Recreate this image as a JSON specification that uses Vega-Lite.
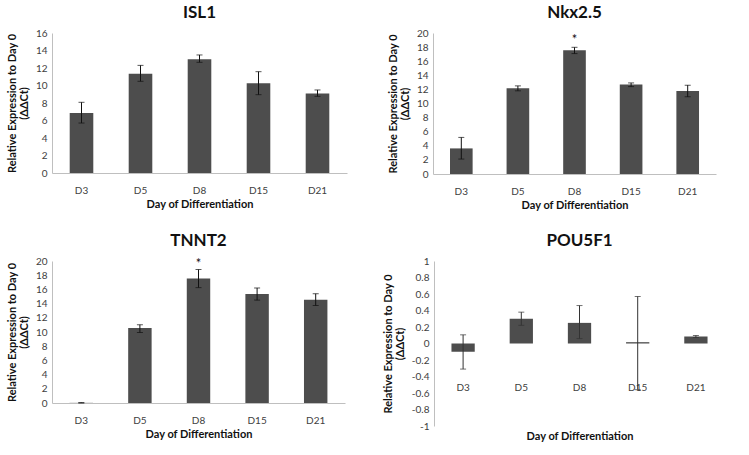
{
  "$schema": "https://vega.github.io/schema/vega-lite/v6.json",
  "padding": {"left": 6, "top": 4, "right": 5, "bottom": 5},
  "spacing": 22,
  "datasets": {
    "d": [
      {"gene": "ISL1", "day": "D3", "value": 6.86, "lo": 5.71, "hi": 8.08, "sig": ""},
      {"gene": "ISL1", "day": "D5", "value": 11.35, "lo": 10.48, "hi": 12.3, "sig": ""},
      {"gene": "ISL1", "day": "D8", "value": 13.0, "lo": 12.65, "hi": 13.49, "sig": ""},
      {"gene": "ISL1", "day": "D15", "value": 10.25, "lo": 8.95, "hi": 11.58, "sig": ""},
      {"gene": "ISL1", "day": "D21", "value": 9.1, "lo": 8.76, "hi": 9.49, "sig": ""},
      {"gene": "Nkx2.5", "day": "D3", "value": 3.63, "lo": 2.12, "hi": 5.19, "sig": ""},
      {"gene": "Nkx2.5", "day": "D5", "value": 12.17, "lo": 11.8, "hi": 12.5, "sig": ""},
      {"gene": "Nkx2.5", "day": "D8", "value": 17.55, "lo": 17.08, "hi": 17.97, "sig": "*"},
      {"gene": "Nkx2.5", "day": "D15", "value": 12.69, "lo": 12.4, "hi": 12.92, "sig": ""},
      {"gene": "Nkx2.5", "day": "D21", "value": 11.79, "lo": 10.94, "hi": 12.6, "sig": ""},
      {"gene": "TNNT2", "day": "D3", "value": 0.02, "lo": 0.0, "hi": 0.05, "sig": ""},
      {"gene": "TNNT2", "day": "D5", "value": 10.55, "lo": 9.93, "hi": 11.02, "sig": ""},
      {"gene": "TNNT2", "day": "D8", "value": 17.53, "lo": 16.25, "hi": 18.8, "sig": "*"},
      {"gene": "TNNT2", "day": "D15", "value": 15.34, "lo": 14.49, "hi": 16.2, "sig": ""},
      {"gene": "TNNT2", "day": "D21", "value": 14.54, "lo": 13.73, "hi": 15.39, "sig": ""},
      {"gene": "POU5F1", "day": "D3", "value": -0.1, "lo": -0.31, "hi": 0.105, "sig": ""},
      {"gene": "POU5F1", "day": "D5", "value": 0.3, "lo": 0.22, "hi": 0.38, "sig": ""},
      {"gene": "POU5F1", "day": "D8", "value": 0.25, "lo": 0.06, "hi": 0.46, "sig": ""},
      {"gene": "POU5F1", "day": "D15", "value": 0.016, "lo": -0.56, "hi": 0.57, "sig": ""},
      {"gene": "POU5F1", "day": "D21", "value": 0.085, "lo": 0.073, "hi": 0.097, "sig": ""}
    ]
  },
  "vconcat": [
    {
      "spacing": 40,
      "hconcat": [
        {
          "title": "ISL1",
          "width": 295, "height": 140,
          "data": {"name": "d"},
          "transform": [{"filter": "datum.gene === 'ISL1'"}],
          "encoding": {
            "x": {"field": "day", "type": "nominal", "sort": ["D3", "D5", "D8", "D15", "D21"],
              "scale": {"paddingInner": 0.6, "paddingOuter": 0.3},
              "axis": {"title": "Day of Differentiation", "labelAngle": 0, "labelPadding": 12, "titlePadding": 3}},
            "y": {"field": "value", "type": "quantitative", "scale": {"domain": [0, 16]},
              "axis": {"values": [0, 2, 4, 6, 8, 10, 12, 14, 16], "title": ["Relative Expression to Day 0", "(ΔΔCt)"]}}
          },
          "layer": [
            {"mark": {"type": "bar", "color": "#4d4d4d"}},
            {"mark": {"type": "errorbar", "ticks": {"size": 6, "color": "#111111"}, "rule": {"color": "#111111"}},
             "encoding": {"y": {"field": "lo", "type": "quantitative", "scale": {"domain": [0, 16]},
               "axis": {"values": [0, 2, 4, 6, 8, 10, 12, 14, 16], "title": ["Relative Expression to Day 0", "(ΔΔCt)"]}}, "y2": {"field": "hi"}}}
          ]
        },
        {
          "title": "Nkx2.5",
          "width": 283, "height": 141,
          "data": {"name": "d"},
          "transform": [{"filter": "datum.gene === 'Nkx2.5'"}],
          "encoding": {
            "x": {"field": "day", "type": "nominal", "sort": ["D3", "D5", "D8", "D15", "D21"],
              "scale": {"paddingInner": 0.6, "paddingOuter": 0.3},
              "axis": {"title": "Day of Differentiation", "labelAngle": 0, "labelPadding": 12, "titlePadding": 3}},
            "y": {"field": "value", "type": "quantitative", "scale": {"domain": [0, 20]},
              "axis": {"values": [0, 2, 4, 6, 8, 10, 12, 14, 16, 18, 20], "title": ["Relative Expression to Day 0", "(ΔΔCt)"]}}
          },
          "layer": [
            {"mark": {"type": "bar", "color": "#4d4d4d"}},
            {"mark": {"type": "errorbar", "ticks": {"size": 6, "color": "#111111"}, "rule": {"color": "#111111"}},
             "encoding": {"y": {"field": "lo", "type": "quantitative", "scale": {"domain": [0, 20]},
               "axis": {"values": [0, 2, 4, 6, 8, 10, 12, 14, 16, 18, 20], "title": ["Relative Expression to Day 0", "(ΔΔCt)"]}}, "y2": {"field": "hi"}}},
            {"transform": [{"filter": "datum.sig === '*'"}],
             "mark": {"type": "text", "baseline": "bottom", "dy": 0, "fontSize": 13, "color": "#111111"},
             "encoding": {"y": {"field": "hi", "type": "quantitative", "scale": {"domain": [0, 20]},
               "axis": {"values": [0, 2, 4, 6, 8, 10, 12, 14, 16, 18, 20], "title": ["Relative Expression to Day 0", "(ΔΔCt)"]}}, "text": {"field": "sig"}}}
          ]
        }
      ]
    },
    {
      "spacing": 37,
      "hconcat": [
        {
          "title": "TNNT2",
          "width": 293, "height": 142,
          "data": {"name": "d"},
          "transform": [{"filter": "datum.gene === 'TNNT2'"}],
          "encoding": {
            "x": {"field": "day", "type": "nominal", "sort": ["D3", "D5", "D8", "D15", "D21"],
              "scale": {"paddingInner": 0.6, "paddingOuter": 0.3},
              "axis": {"title": "Day of Differentiation", "labelAngle": 0, "labelPadding": 12, "titlePadding": 3}},
            "y": {"field": "value", "type": "quantitative", "scale": {"domain": [0, 20]},
              "axis": {"values": [0, 2, 4, 6, 8, 10, 12, 14, 16, 18, 20], "title": ["Relative Expression to Day 0", "(ΔΔCt)"]}}
          },
          "layer": [
            {"mark": {"type": "bar", "color": "#4d4d4d"}},
            {"mark": {"type": "errorbar", "ticks": {"size": 6, "color": "#111111"}, "rule": {"color": "#111111"}},
             "encoding": {"y": {"field": "lo", "type": "quantitative", "scale": {"domain": [0, 20]},
               "axis": {"values": [0, 2, 4, 6, 8, 10, 12, 14, 16, 18, 20], "title": ["Relative Expression to Day 0", "(ΔΔCt)"]}}, "y2": {"field": "hi"}}},
            {"transform": [{"filter": "datum.sig === '*'"}],
             "mark": {"type": "text", "baseline": "bottom", "dy": 1, "fontSize": 13, "color": "#111111"},
             "encoding": {"y": {"field": "hi", "type": "quantitative", "scale": {"domain": [0, 20]},
               "axis": {"values": [0, 2, 4, 6, 8, 10, 12, 14, 16, 18, 20], "title": ["Relative Expression to Day 0", "(ΔΔCt)"]}}, "text": {"field": "sig"}}}
          ]
        },
        {
          "title": "POU5F1",
          "width": 291, "height": 165,
          "data": {"name": "d"},
          "transform": [{"filter": "datum.gene === 'POU5F1'"}],
          "encoding": {
            "x": {"field": "day", "type": "nominal", "sort": ["D3", "D5", "D8", "D15", "D21"],
              "scale": {"paddingInner": 0.6, "paddingOuter": 0.3},
              "axis": {"title": "Day of Differentiation", "labelAngle": 0, "domain": false, "labelPadding": -44, "titleY": 4}},
            "y": {"field": "value", "type": "quantitative", "scale": {"domain": [-1, 1]},
              "axis": {"values": [-1, -0.8, -0.6, -0.4, -0.2, 0, 0.2, 0.4, 0.6, 0.8, 1], "format": ".1~f",
                "labelExpr": "replace(datum.label, '−', '-')",
                "title": ["Relative Expression to Day 0", "(ΔΔCt)"]}}
          },
          "layer": [
            {"mark": {"type": "bar", "color": "#4d4d4d"}},
            {"mark": {"type": "rule", "color": "#bfbfbf"},
             "encoding": {"x": {"value": 0}, "x2": {"expr": "width"}, "y": {"datum": 0, "type": "quantitative"}}},
            {"mark": {"type": "errorbar", "ticks": {"size": 6, "color": "#333333"}, "rule": {"color": "#333333"}},
             "encoding": {"y": {"field": "lo", "type": "quantitative", "scale": {"domain": [-1, 1]},
               "axis": {"values": [-1, -0.8, -0.6, -0.4, -0.2, 0, 0.2, 0.4, 0.6, 0.8, 1], "format": ".1~f",
                 "labelExpr": "replace(datum.label, '−', '-')",
                 "title": ["Relative Expression to Day 0", "(ΔΔCt)"]}}, "y2": {"field": "hi"}}}
          ]
        }
      ]
    }
  ],
  "config": {
    "font": "Lato",
    "view": {"stroke": null},
    "axis": {
      "grid": false, "ticks": false, "domainColor": "#bfbfbf",
      "labelColor": "#404040", "labelFontSize": 10, "labelFont": "Lato",
      "labelOverlap": false, "labelFlush": false,
      "titleFont": "Lato", "titleFontSize": 11, "titleFontWeight": "bold", "titleColor": "#111111"
    },
    "axisY": {"labelPadding": 5, "titlePadding": 6, "titleLineHeight": 12},
    "title": {"fontSize": 17, "fontWeight": "bold", "color": "#111111", "font": "Lato", "offset": 6}
  }
}
